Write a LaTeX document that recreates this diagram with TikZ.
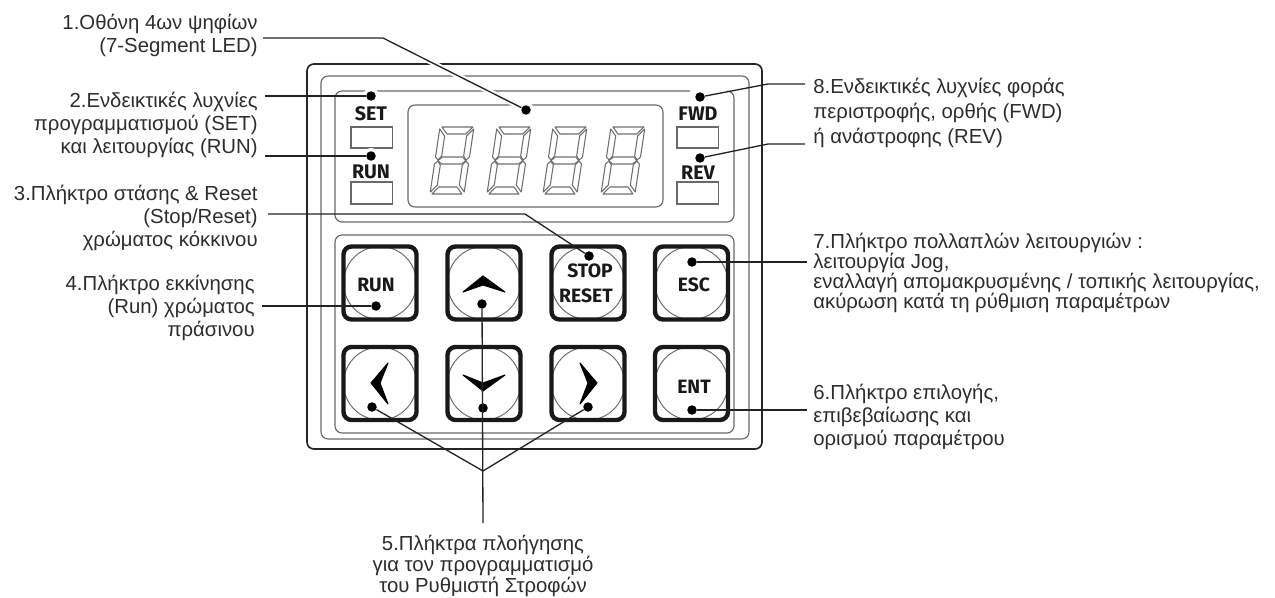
\documentclass[tikz,border=0pt]{standalone}
\usepackage{fontspec}
\setmainfont{Liberation Sans}
\newfontfamily\keyfont{Fira Sans}
\usetikzlibrary{positioning,calc}
\definecolor{TextGray}{RGB}{45,45,45}
\definecolor{LeadDark}{RGB}{35,35,35}
\definecolor{FrameGray}{RGB}{105,105,105}
\definecolor{SegGray}{RGB}{110,110,110}
\tikzset{
  caption/.style={inner sep=0pt,text=TextGray,font=\fontsize{11.58}{#1}\selectfont},
  leadline/.style={draw=LeadDark,line width=0.75pt},
  frameline/.style={draw=FrameGray,line width=0.65pt,rounded corners=0.14cm},
  leddot/.style={circle,fill=black,inner sep=0pt,minimum size=0.19cm},
  ledgap/.style={circle,fill=white,inner sep=0pt,minimum size=0.32cm},
  keybox/.style={draw=black!90,line width=2.5pt,rounded corners=0.16cm,minimum size=1.46cm,inner sep=0pt},
  keyface/.style={circle,draw=FrameGray,line width=0.55pt,minimum size=1.46cm,inner sep=0pt},
  keytext/.style={inner sep=0pt,text=black!90,font=\keyfont\bfseries\fontsize{#1}{#1}\selectfont},
  ledbox/.style={draw=FrameGray,line width=0.65pt},
  segline/.style={draw=SegGray,line width=0.6pt,line join=round},
  chevron/.style={fill=black,draw=black,line width=0.6pt,line join=round}
}
\newcommand{\segdigit}[1]{%
  \begin{scope}[shift={(#1,127)},xslant=0.15]
    \draw[segline] (2,0)--(33,0)--(27,7)--(8,7)--cycle;
    \draw[segline] (2,67)--(32,67)--(26,60)--(8,60)--cycle;
    \draw[segline] (0,2)--(6,9)--(6,29)--(3,33)--(0,30)--cycle;
    \draw[segline] (34,2)--(34,30)--(31,33)--(28,29)--(28,9)--cycle;
    \draw[segline] (0,37)--(3,34)--(6,38)--(6,58)--(0,65)--cycle;
    \draw[segline] (34,37)--(34,65)--(28,58)--(28,38)--(31,34)--cycle;
    \draw[segline] (3,33.5)--(7,30)--(27,30)--(31,33.5)--(27,37)--(7,37)--cycle;
  \end{scope}}
\begin{document}
\begin{tikzpicture}[x=0.02cm,y=-0.02cm]
  \useasboundingbox (0,0) rectangle (1275,598);
  % casing and panels
  \draw[draw=black!85,line width=0.95pt,rounded corners=0.14cm] (307,64) rectangle (762,449);
  \draw[frameline] (321,76) rectangle (749,439);
  \draw[frameline] (727,91)--(734,91)--(734,222)--(335,222)--(335,91)--(690,91);
  \draw[frameline] (335,235) rectangle (734,433);
  \draw[frameline] (408,105) rectangle (663,207);
  \foreach \digx in {440,497,553,611} {\segdigit{\digx}}
  % indicator windows
  \foreach \boxx in {351,677} {
    \draw[ledbox] (\boxx,127) rectangle ++(41.5,21);
    \draw[ledbox] (\boxx,182) rectangle ++(41.5,22);
  }
  \node[keytext=11.2] (txtSet) at (371,113.5) {SET};
  \node[keytext=11.2] (txtRun) at (371,172) {RUN};
  \node[keytext=11.2] (txtFwd) at (698,114) {FWD};
  \node[keytext=11.2] (txtRev) at (698,172.5) {REV};
  % keys
  \foreach \keyname/\keyx/\keyy in {keyRun/380/283,keyUp/484/283,keyStop/588/283,keyEsc/691.5/283,
      keyLeft/380/383.5,keyDown/484/383.5,keyRight/588/383.5,keyEnt/691.5/383.5} {
    \node[keyface] at (\keyx,\keyy) {};
    \node[keybox] (\keyname) at (\keyx,\keyy) {};
  }
  \node[keytext=11] (lblRun) at (376,285) {RUN};
  \node[keytext=11] (lblStop) at (590,271) {STOP};
  \node[keytext=11] (lblReset) at (586,296) {RESET};
  \node[keytext=11] (lblEsc) at (694,285) {ESC};
  \node[keytext=11] (lblEnt) at (694,387) {ENT};
  \draw[chevron] (483,276)--(505,292)--(483,285)--(463,292)--cycle;
  \draw[chevron] (463,375)--(483,383)--(505,375)--(483,391)--cycle;
  \draw[chevron] (371,383)--(388,363)--(380,383)--(388,404)--cycle;
  \draw[chevron] (580,363)--(597,383)--(580,404)--(588,383)--cycle;
  % dots
  \foreach \gapx/\gapy in {371/96,371/156,526/110} {\node[ledgap] at (\gapx,\gapy) {};}
  \node[leddot] (dotSet) at (371,96) {};
  \node[leddot] (dotRun) at (371,156) {};
  \node[leddot] (dotDisp) at (526,110) {};
  \node[leddot] (dotFwd) at (700,97) {};
  \node[leddot] (dotRev) at (700,158) {};
  \node[leddot] (dotKeyRun) at (376,306) {};
  \node[leddot] (dotKeyUp) at (482,304) {};
  \node[leddot] (dotKeyStop) at (589,256) {};
  \node[leddot] (dotKeyEsc) at (692,262) {};
  \node[leddot] (dotKeyLeft) at (372,407) {};
  \node[leddot] (dotKeyDown) at (483,408) {};
  \node[leddot] (dotKeyRight) at (588,407) {};
  \node[leddot] (dotKeyEnt) at (692,410) {};
  % captions
  \node[caption=13.3pt,anchor=east,align=right] (capDisp) at (258,35.5) {1.Οθόνη 4ων ψηφίων\\(7-Segment LED)};
  \node[caption=13.3pt,anchor=east,align=right] (capProg) at (258,125) {2.Ενδεικτικές λυχνίες\\προγραμματισμού (SET)\\και λειτουργίας (RUN)};
  \node[caption=13.3pt,anchor=east,align=right] (capStop) at (258,218) {3.Πλήκτρο στάσης \& Reset\\(Stop/Reset)\\χρώματος κόκκινου};
  \node[caption=13.3pt,anchor=east,align=right] (capRun) at (255,308) {4.Πλήκτρο εκκίνησης\\(Run) χρώματος\\πράσινου};
  \node[caption=11.9pt,align=center] (capNav) at (483,566) {5.Πλήκτρα πλοήγησης\\για τον προγραμματισμό\\του Ρυθμιστή Στροφών};
  \node[caption=13pt,anchor=west,align=left] (capEnt) at (813,417) {6.Πλήκτρο επιλογής,\\επιβεβαίωσης και\\ορισμού παραμέτρου};
  \node[caption=11.4pt,anchor=west,align=left] (capEsc) at (813,273) {7.Πλήκτρο πολλαπλών λειτουργιών :\\λειτουργία Jog,\\εναλλαγή απομακρυσμένης / τοπικής λειτουργίας,\\ακύρωση κατά τη ρύθμιση παραμέτρων};
  \node[caption=14.2pt,anchor=west,align=left] (capFwd) at (813,113) {8.Ενδεικτικές λυχνίες φοράς\\περιστροφής, ορθής (FWD)\\ή ανάστροφης (REV)};
  % leader ends
  \coordinate (endDisp) at (263,38);
  \coordinate (bendDisp) at (383,38);
  \coordinate (endSet) at (265,96);
  \coordinate (endRun) at (265,156);
  \coordinate (endStop) at (268,214);
  \coordinate (bendStop) at (525,214);
  \coordinate (endKeyRun) at (262,306);
  \coordinate (apexNav) at (483,471);
  \coordinate (endNav) at (483,523);
  \coordinate (endEnt) at (807,410);
  \coordinate (endEsc) at (807,262);
  \coordinate (endFwd) at (805,84);
  \coordinate (bendFwd) at (768,84);
  \coordinate (endRev) at (805,144);
  \coordinate (bendRev) at (768,144);
  % leaders
  \draw[draw=white,line width=3pt] (bendDisp)--(dotDisp);
  \draw[leadline] (endDisp)--(bendDisp)--(dotDisp);
  \draw[leadline] (endSet)--(dotSet);
  \draw[leadline] (endRun)--(dotRun);
  \draw[leadline] (endStop)--(bendStop)--(dotKeyStop);
  \draw[leadline] (endKeyRun)--(dotKeyRun);
  \draw[leadline] (dotKeyLeft)--(apexNav)--(dotKeyRight);
  \draw[leadline] (dotKeyUp)--(endNav);
  \draw[leadline] (endEnt)--(dotKeyEnt);
  \draw[leadline] (endEsc)--(dotKeyEsc);
  \draw[leadline] (endFwd)--(bendFwd)--(dotFwd);
  \draw[leadline] (endRev)--(bendRev)--(dotRev);
\end{tikzpicture}
\end{document}
